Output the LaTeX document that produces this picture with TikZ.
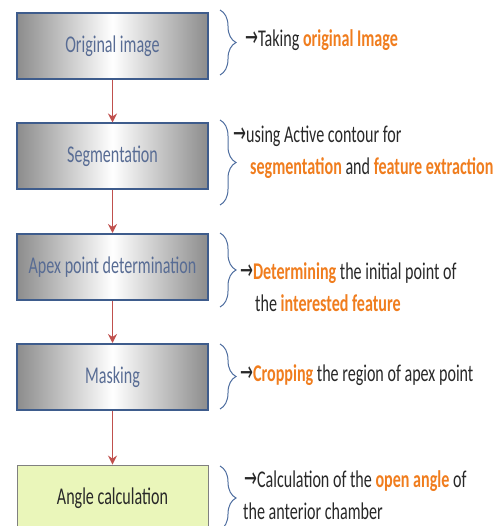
\documentclass[tikz,border=0pt]{standalone}
\usepackage{fontspec}
\setmainfont{Carlito}[FakeStretch=0.67]
\newfontfamily\arrowfont{DejaVu Sans}[FakeStretch=0.55]
\usetikzlibrary{arrows.meta,decorations.pathreplacing}
\definecolor{boxblue}{RGB}{62,92,140}
\definecolor{labelblue}{RGB}{88,108,148}
\definecolor{arrowred}{RGB}{192,80,77}
\definecolor{braceblue}{RGB}{79,110,160}
\definecolor{noteorange}{RGB}{240,125,30}
\definecolor{darktext}{RGB}{40,40,40}
\definecolor{palegreen}{RGB}{234,246,186}
\tikzset{
  procbox/.style={draw=boxblue, line width=2pt, left color=gray!90, right color=gray!90, middle color=white,
    minimum width=191pt, minimum height=66pt, text=labelblue, font=\fontsize{24}{28}\selectfont},
  endbox/.style={draw=gray, line width=0.8pt, fill=palegreen, minimum width=191pt, minimum height=66pt,
    text=darktext, font=\fontsize{24}{28}\selectfont},
  flow/.style={draw=arrowred, line width=1.8pt, -{Stealth[length=9pt,width=9pt,inset=3pt]}},
  curly/.style={draw=braceblue, line width=1pt, decorate, decoration={brace,amplitude=16pt}},
  note/.style={anchor=base west, inner sep=0pt, text=darktext, font=\fontsize{24}{28}\selectfont}
}
\newcommand{\hl}[1]{\textcolor{noteorange}{\textbf{#1}}}
\newcommand{\goesto}{{\arrowfont\fontsize{28}{28}\selectfont →}}
\begin{document}
\begin{tikzpicture}[x=1pt,y=-1pt]
\clip (0,0) rectangle (496,526);
\node [procbox] (box1) at (112.5,46) {Original image};
\node [procbox] (box2) at (112.5,156.5) {Segmentation};
\node [procbox] (box3) at (112.5,267) {Apex point determination};
\node [procbox] (box4) at (112.5,377) {Masking};
\node [endbox] (box5) at (112.5,498) {Angle calculation};
\draw [flow] (box1) -- (box2);
\draw [flow] (box2) -- (box3);
\draw [flow] (box3) -- (box4);
\draw [flow] (box4) -- (box5);
\draw [curly] (220,10) -- (220,75);
\draw [curly] (220,120) -- (220,205);
\draw [curly] (220,233) -- (220,307);
\draw [curly] (220,344) -- (220,409);
\draw [curly] (220,466) -- (220,530);
\node [note] (note1) at (245,47) {\goesto Taking \hl{original Image}};
\node [note] (note2a) at (233,143) {\goesto using Active contour for};
\node [note] (note2b) at (250,175) {\hl{segmentation} and \hl{feature extraction}};
\node [note] (note3a) at (240,279) {\goesto\hl{Determining} the initial point of};
\node [note] (note3b) at (255,311) {the \hl{interested feature}};
\node [note] (note4) at (240,381) {\goesto\hl{Cropping} the region of apex point};
\node [note] (note5a) at (244,487) {\goesto Calculation of the \hl{open angle} of};
\node [note] (note5b) at (243,519) {the anterior chamber};
\end{tikzpicture}
\end{document}
